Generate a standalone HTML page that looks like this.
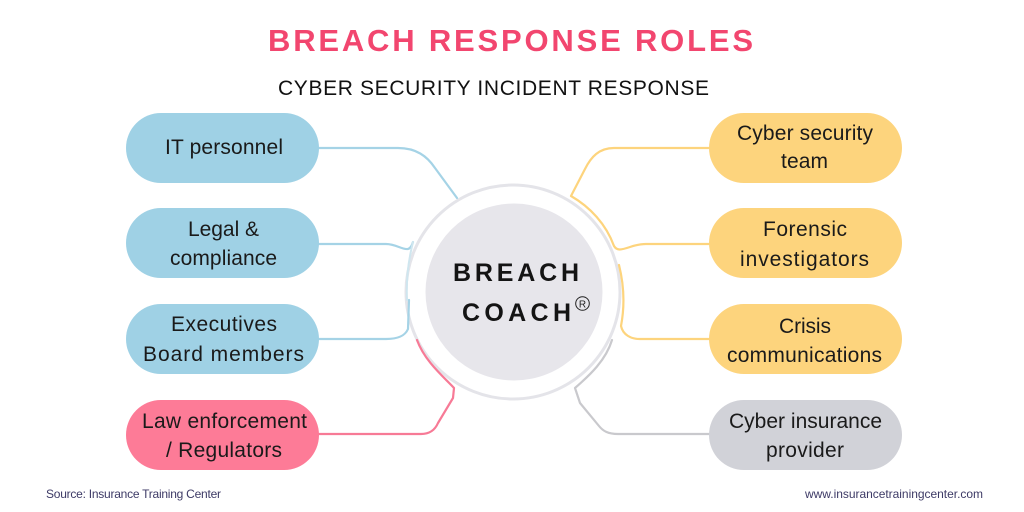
<!DOCTYPE html>
<html>
<head>
<meta charset="utf-8">
<style>
  html,body{margin:0;padding:0;background:#ffffff;}
  body{width:1024px;height:512px;overflow:hidden;}
  svg{display:block;}
  text{font-family:"Liberation Sans", sans-serif;}
</style>
</head>
<body>
<svg width="1024" height="512" viewBox="0 0 1024 512" xmlns="http://www.w3.org/2000/svg">
  <rect x="0" y="0" width="1024" height="512" fill="#ffffff"/>

  <!-- Titles -->
  <text x="268" y="51" font-size="31" font-weight="bold" fill="#f2466f" textLength="485" lengthAdjust="spacing">BREACH RESPONSE ROLES</text>
  <text x="278" y="95" font-size="21" fill="#111111" textLength="431" lengthAdjust="spacing">CYBER SECURITY INCIDENT RESPONSE</text>

  <!-- Center ring -->
  <circle cx="513" cy="292" r="107" fill="#ffffff" stroke="#e4e4e9" stroke-width="3"/>
  <circle cx="514" cy="292" r="88.5" fill="#e7e6eb"/>

  <!-- Connectors -->
  <g fill="none" stroke-width="2.2" stroke-linecap="round" stroke-linejoin="round">
    <!-- blue -->
    <path d="M319,148 L398,148 C416,148 427,156 435,168 L457,198" stroke="#a5d3e6"/>
    <path d="M319,244 L386,244 C396,244 402,250 408,249 C411,248 412,245 413,242" stroke="#a5d3e6"/>
    <path d="M319,339 L386,339 C398,339 405,336 408,329 L409,300" stroke="#a5d3e6"/>
    <path d="M413,242 C408,262 406,280 407,300" stroke="#cfe6ef" stroke-width="2"/>
    <!-- pink -->
    <path d="M319,434 L421,434 C430,434 435,430 438,423 L453,398 L454,388 C445,378 425,362 417,340" stroke="#f77a96"/>
    <!-- yellow -->
    <path d="M709,148 L614,148 C599,148 591,157 585,169 L571,196 C590,207 606,224 614,246 C617,251 621,250 630,247 C636,245 640,244 646,244 L709,244" stroke="#fdd47d"/>
    <path d="M709,339 L640,339 C631,339 623,335 621,326 C625,305 624,285 619,265" stroke="#fdd47d"/>
    <!-- grey -->
    <path d="M709,434 L618,434 C608,434 603,431 599,426 L580,403 L575,388 C590,375 606,360 612,340" stroke="#c9c9cd"/>
  </g>

  <!-- Center text -->
  <text x="453" y="281" font-size="25" font-weight="bold" fill="#141414" textLength="126" lengthAdjust="spacing">BREACH</text>
  <text x="462" y="321" font-size="25" font-weight="bold" fill="#141414" textLength="109" lengthAdjust="spacing">COACH</text>
  <circle cx="582.5" cy="303.5" r="6.8" fill="none" stroke="#222" stroke-width="1"/>
  <text x="582.5" y="307.5" font-size="10" fill="#222" text-anchor="middle">R</text>

  <!-- Left pills -->
  <rect x="126" y="113" width="193" height="70" rx="35" fill="#9fd1e5"/>
  <rect x="126" y="208" width="193" height="70" rx="35" fill="#9fd1e5"/>
  <rect x="126" y="304" width="193" height="70" rx="35" fill="#9fd1e5"/>
  <rect x="126" y="400" width="193" height="70" rx="35" fill="#fd7b97"/>

  <!-- Right pills -->
  <rect x="709" y="113" width="193" height="70" rx="35" fill="#fdd47d"/>
  <rect x="709" y="208" width="193" height="70" rx="35" fill="#fdd47d"/>
  <rect x="709" y="304" width="193" height="70" rx="35" fill="#fdd47d"/>
  <rect x="709" y="400" width="193" height="70" rx="35" fill="#d1d2d8"/>

  <!-- Left labels -->
  <g font-size="21" fill="#1a1a1a">
    <text x="165" y="154" textLength="118">IT personnel</text>
    <text x="188" y="236" textLength="71">Legal &amp;</text>
    <text x="170" y="265" textLength="107">compliance</text>
    <text x="171" y="331" textLength="106">Executives</text>
    <text x="143" y="361" textLength="161">Board members</text>
    <text x="142" y="428" textLength="165">Law enforcement</text>
    <text x="166" y="457" textLength="116">/ Regulators</text>

    <!-- Right labels -->
    <text x="737" y="140" textLength="136">Cyber security</text>
    <text x="781" y="168" textLength="47">team</text>
    <text x="763" y="236" textLength="84">Forensic</text>
    <text x="740" y="266" textLength="129">investigators</text>
    <text x="779" y="333" textLength="52">Crisis</text>
    <text x="727" y="362" textLength="155">communications</text>
    <text x="729" y="428" textLength="153">Cyber insurance</text>
    <text x="766" y="457" textLength="78">provider</text>
  </g>

  <!-- Footer -->
  <text x="46" y="498" font-size="12" fill="#3d3a66" textLength="175">Source: Insurance Training Center</text>
  <text x="805" y="498" font-size="12" fill="#3d3a66" textLength="178">www.insurancetrainingcenter.com</text>
</svg>
</body>
</html>
